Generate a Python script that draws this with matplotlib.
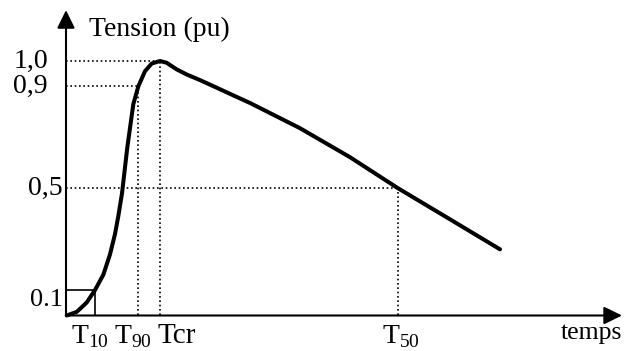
import matplotlib
matplotlib.use('Agg')
import matplotlib.pyplot as plt

plt.rcParams['font.family'] = ['Liberation Serif', 'DejaVu Serif']
plt.rcParams['mathtext.fontset'] = 'custom'
plt.rcParams['mathtext.rm'] = 'Liberation Serif'

# impulse voltage wave, time in arbitrary units, tension in pu
t_curve = [0.07, 1.07, 2.07, 2.9, 3.73, 4.4, 4.9, 5.23, 5.6, 6.13, 6.73, 7.23,
           7.9, 8.57, 9.4, 10.07, 11.07, 12.07, 13.4, 15.07, 16.73, 18.4,
           23.4, 28.4, 33.2, 38.4, 43.4]
v_curve = [0.0, 0.014, 0.051, 0.10, 0.16, 0.24, 0.32, 0.39, 0.48, 0.66,
           0.83, 0.90, 0.96, 0.99, 1.0, 0.993, 0.967, 0.947, 0.925, 0.895,
           0.865, 0.835, 0.736, 0.622, 0.50, 0.378, 0.26]

# characteristic times and levels
t10, t90, tcr, t50 = 2.9, 7.2, 9.4, 33.2
level_labels = ['1,0', '0,9', '0,5', '0.1']
time_labels = [r'T$_{10}$', r'T$_{90}$', 'Tcr', r'T$_{50}$']

fig = plt.figure(figsize=(6.27, 3.51), dpi=100)
ax = fig.add_axes([0, 0, 1, 1])
ax.set_xlim(-6.6, 56.1)
ax.set_ylim(-0.1395, 1.2397)
ax.axis('off')

# axes with arrows
arrow = dict(arrowstyle='-|>,head_length=0.55,head_width=0.27', lw=1.5,
             color='black', mutation_scale=20, shrinkA=0, shrinkB=0)
ax.annotate('', xy=(0, 1.2), xytext=(0, 0), arrowprops=arrow)
ax.annotate('', xy=(55.6, 0), xytext=(0, 0), arrowprops=arrow)

# dotted guide lines
dot = dict(color='black', lw=1.2, linestyle=(0, (1, 1.6)))
ax.plot([0, tcr], [1.0, 1.0], **dot)
ax.plot([0, t90], [0.9, 0.9], **dot)
ax.plot([0, t50], [0.5, 0.5], **dot)
ax.plot([t90, t90], [0, 0.9], **dot)
ax.plot([tcr, tcr], [0, 1.0], **dot)
ax.plot([t50, t50], [0, 0.5], **dot)

# 10% box
ax.plot([0, t10, t10], [0.1, 0.1, 0], color='black', lw=1.2)

# the wave
ax.plot(t_curve, v_curve, color='black', lw=2.9, solid_joinstyle='round',
        solid_capstyle='round')

# labels
ax.text(2.3, 1.098, 'Tension (pu)', fontsize=20, ha='left', va='baseline')
ax.text(-1.8, 1.0, level_labels[0], fontsize=20, ha='right', va='center')
ax.text(-1.8, 0.9, level_labels[1], fontsize=20, ha='right', va='center')
ax.text(-0.3, 0.5, level_labels[2], fontsize=20, ha='right', va='center')
ax.text(-0.3, 0.06, level_labels[3], fontsize=19, ha='right', va='center')

for x, lab, fs in zip([2.4, 6.7, 11.1, 33.45], time_labels, [20, 20, 21, 20]):
    ax.text(x, -0.03, lab, fontsize=fs, ha='center', va='top')
ax.text(52.55, -0.025, 'temps', fontsize=18.5, ha='center', va='top')

fig.savefig('out.png', dpi=100)
